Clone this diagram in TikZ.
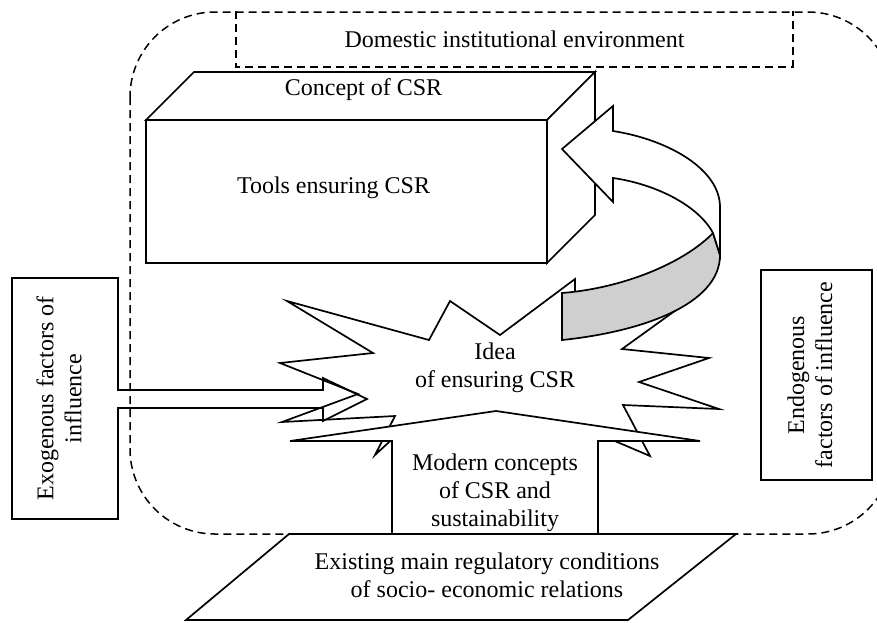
\documentclass[tikz,border=0pt]{standalone}
\usepackage{fontspec}
\setmainfont{Liberation Serif}
\definecolor{ribbon}{gray}{0.81}

\begin{document}
\begin{tikzpicture}[x=1pt, y=-1pt, line width=1.7pt, line join=miter,
		font=\fontsize{24}{28}\selectfont,
		blockshape/.style={draw, fill=white},
		dashframe/.style={draw, line width=1.5pt, dash pattern=on 8pt off 5pt},
		lbl/.style={align=center, inner sep=0pt}]
		\useasboundingbox (0,0) rectangle (877,622);
		\def\dep{48}
		% ---------------- idea (explosion) ----------------
		\draw[blockshape] (287,301) -- (429,340) -- (450,301) -- (500,335) -- (575,279)
			-- (575,300) -- (690,300) -- (622,349) -- (709,358) -- (639,382) -- (719,409)
			-- (623,405) -- (650,456) -- (589,430) -- (400,432) -- (375,455) -- (395,416)
			-- (282,422) -- (358,394) -- (280,363) -- (373,353) -- cycle;
		\node[lbl] (idea) at (495,367.5) {Idea\\of ensuring CSR};
		% ---------------- modern concepts (up arrow) ----------------
		\draw[blockshape] (392,534) -- (392,441) -- (290,441) -- (496,411) -- (700,441)
			-- (598,441) -- (598,534) -- cycle;
		\node[lbl] (modern) at (495,493) {Modern concepts\\of CSR and\\sustainability};
		% ---------------- existing conditions ----------------
		\draw[blockshape] (289,534) -- (736,534) -- (628,620) -- (186,620) -- cycle;
		\node[lbl] (existing) at (487,575) {Existing main regulatory conditions\\of socio- economic relations};
		% ---------------- concept of CSR (box) ----------------
		\draw[blockshape] (146,120) rectangle (547,263);
		\draw[blockshape] (146,120) -- ++(\dep,-\dep) -- (595,72) -- (547,120) -- cycle;
		\draw[blockshape] (547,120) -- ++(\dep,-\dep) -- (595,215) -- (547,263) -- cycle;
		\node[lbl] (concept) at (363.5,90) {Concept of CSR};
		\node[lbl] (tools) at (333.5,188) {Tools ensuring CSR};
		% ---------------- curved arrow ----------------
		\draw[blockshape, fill=ribbon] (713,233) .. controls (685,262) and (625,288) .. (562,293)
			-- (562,340) .. controls (640,332) and (720,305) .. (720,255) -- cycle;
		\draw[blockshape] (613,131) -- (613,106) -- (562,149) -- (613,202) -- (613,178)
			.. controls (655,184) and (698,205) .. (713,233) -- (720,255) -- (720,207)
			.. controls (720,170) and (670,140) .. (613,131) -- cycle;
		% ---------------- exogenous factors ----------------
		\draw (118,278) -- (12,278) -- (12,519) -- (118,519) -- (118,408) -- (323,408)
			-- (323,421) -- (367,399) -- (323,378) -- (323,390) -- (118,390) -- cycle;
		\node[lbl, rotate=90] (exo) at (59,398.5) {Exogenous factors of\\influence};
		% ---------------- endogenous factors ----------------
		\node[draw, minimum width=111pt, minimum height=210pt] (endobox) at (816.5,375) {};
		\node[lbl, rotate=90] (endo) at (810,375) {Endogenous\\factors of influence};
		% ---------------- domestic environment ----------------
		\node[minimum width=555pt, minimum height=54pt] (domestic) at (514.5,39) {Domestic institutional environment};
		\draw[dashframe] (domestic.north west) -- (domestic.south west) -- (domestic.south east) -- (domestic.north east);
		\draw[dashframe, rounded corners=85pt] (130,12) rectangle (893,534);
	\end{tikzpicture}
\end{document}
